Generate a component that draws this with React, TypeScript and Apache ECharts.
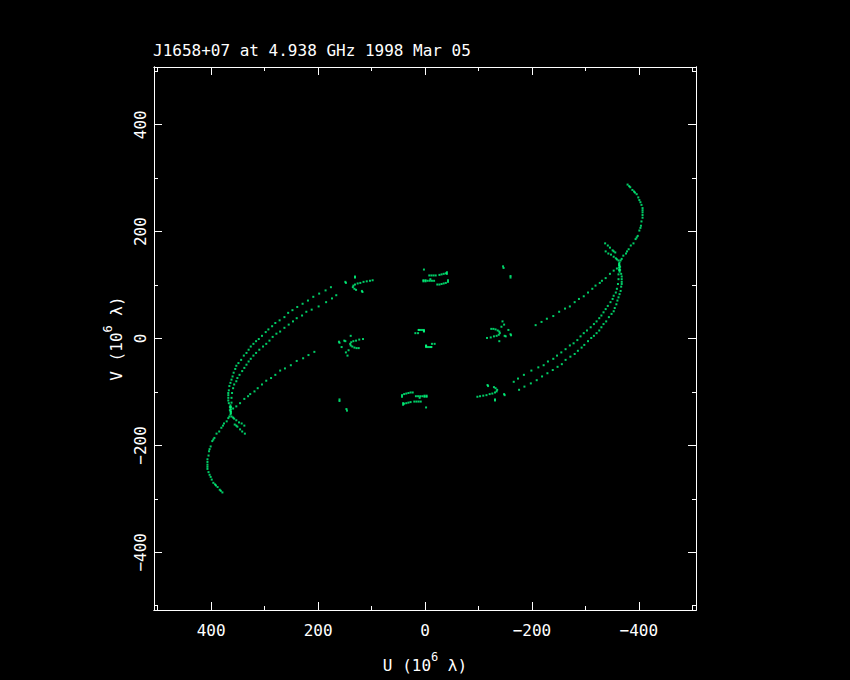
import React, { useEffect, useRef } from 'react';
import * as echarts from 'echarts';

type P = [number, number];

// ---- texts & ticks ----
const titleText = 'J1658+07 at 4.938 GHz 1998 Mar 05';
const uAxisName = '{m|U (10}{s|6}{m| \u03bb)}';
const vAxisName = '{m|V (10}{s|6}{m| \u03bb)}';
const uMin = -507;
const uMax = 507;
const vMin = -508;
const vMax = 508;
const majorTicks = [-400, -200, 0, 200, 400];
const minorTicks = [-500, -300, -100, 100, 300, 500];

// ---- measured (u, v) samples, one half of the uv-plane (units of 10^6 lambda) ----
const longTrackA: P[] = [
  [379, -288], [382, -285], [384, -283], [388, -278], [391, -275], [393, -273], [396, -270], [399, -264],
  [401, -259], [403, -255], [405, -250], [407, -244], [407, -240], [407, -236], [407, -231], [407, -226],
  [405, -219], [404, -211], [403, -207], [401, -202], [398, -192], [396, -189], [394, -186], [390, -178],
  [385, -174], [381, -167], [378, -163], [376, -159], [371, -155], [368, -149], [366, -146], [364, -142],
  [363, -137], [363, -133], [365, -128], [367, -121], [368, -116], [368, -111], [368, -106], [368, -102],
  [367, -97], [366, -89], [364, -83], [362, -77], [360, -71], [358, -64], [355, -57], [353, -51],
  [349, -46], [344, -40], [339, -32], [334, -27], [330, -21], [326, -15], [321, -10], [316, -5],
  [311, -1], [305, 5], [298, 12], [293, 17], [286, 23], [280, 29], [272, 34], [263, 40],
  [256, 48], [248, 53], [239, 59], [229, 65], [219, 71], [209, 78], [198, 84], [186, 90], [176, 96],
];

const longTrackB: P[] = [
  [363, -128], [362, -120], [362, -111], [361, -102], [359, -93], [357, -86], [353, -80], [351, -74],
  [347, -68], [342, -61], [338, -55], [334, -49], [330, -43], [326, -38], [321, -32], [316, -27],
  [310, -21], [303, -15], [297, -10], [291, -4], [285, 3], [278, 9], [271, 13], [263, 20],
  [255, 26], [247, 32], [240, 38], [230, 43], [222, 50], [212, 54], [199, 60], [185, 68],
  [174, 75], [166, 81],
];

const longTrackC: P[] = [
  [359, -131], [353, -127], [346, -121], [338, -113], [331, -108], [327, -104], [319, -99], [313, -93],
  [305, -86], [297, -79], [288, -74], [280, -68], [271, -60], [262, -56], [251, -50], [240, -42],
  [228, -37], [218, -31], [207, -25],
];

const spurOne: P[] = [[362, -146], [359, -148], [357, -150], [353, -153], [348, -157], [343, -159], [338, -163]];
const spurTwo: P[] = [[356, -161], [353, -163], [351, -165], [346, -170], [342, -174], [337, -178]];
const crossing: P[] = [[364, -125], [364, -130], [364, -137], [363, -140], [365, -134]];

const groupA: P[] = [
  [98, 109], [103, 108], [109, 107], [115, 106], [121, 104], [126, 103], [131, 101], [134, 99],
  [135, 96], [132, 93], [129, 91], [131, 114], [131, 116], [149, 106], [148, 104], [118, 89], [117, 87],
];
const groupB: P[] = [
  [-8, 118], [-12, 118], [-16, 118], [-20, 118],
  [3, 109], [3, 107], [-1, 109], [-1, 107], [-5, 108], [-9, 108], [-13, 108], [-17, 108],
  [-27, 119], [-31, 120], [-35, 121], [-39, 122], [-41, 124], [-41, 121],
  [-23, 101], [-27, 101], [-31, 102], [-35, 103], [-39, 104], [-43, 106], [-43, 109],
  [-10, 111], [2, 129],
];
const groupD: P[] = [
  [116, -1], [123, -2], [129, -4], [134, -5], [138, -7], [140, -10], [139, -13], [136, -15],
  [132, -17], [128, -18], [124, -18], [160, -8], [161, -6], [151, -4], [139, 5], [156, -16],
  [148, -26], [143, -22], [145, -32], [149, -5],
];
const groupE: P[] = [[2, 16], [5, 16], [8, 16], [11, 16], [12, 16], [2, 14], [2, 13], [18, 10], [13, 10]];
const groupG: P[] = [[160, -117], [160, -114], [147, -132], [146, -135]];

const halfPlane: P[] = [
  ...longTrackA, ...longTrackB, ...longTrackC, ...spurOne, ...spurTwo, ...crossing,
  ...groupA, ...groupB, ...groupD, ...groupE, ...groupG,
];
// every visibility is plotted together with its conjugate (-u, -v)
const conjugatePlane: P[] = halfPlane.map(([u, v]) => [-u, -v] as P);
const uvPoints: P[] = [...halfPlane, ...conjugatePlane];

const FONT = "'DejaVu Sans Mono', 'Liberation Mono', monospace";
const fmt = (v: number) => (v < 0 ? '\u2212' + Math.abs(v) : String(v));

function frameAxis(min: number, max: number, position: string, ticks: number[], len: number, extra: any = {}) {
  return {
    type: 'value',
    min,
    max,
    position,
    axisLine: { show: true, onZero: false, lineStyle: { color: '#ffffff', width: 1 } },
    axisTick: { show: true, inside: true, length: len, customValues: ticks, lineStyle: { color: '#ffffff', width: 1 } },
    axisLabel: { show: false },
    splitLine: { show: false },
    axisPointer: { show: false },
    ...extra,
  };
}

export default function App() {
  const ref = useRef<HTMLDivElement>(null);
  useEffect(() => {
    document.body.style.margin = '0';
    document.body.style.background = '#000';
    const chart = echarts.init(ref.current!, undefined, { renderer: 'svg' });
    const labelStyle = { color: '#ffffff', fontFamily: FONT, fontSize: 16 };
    const nameStyle = {
      color: '#ffffff',
      fontFamily: FONT,
      fontSize: 16,
      rich: {
        m: { color: '#ffffff', fontFamily: FONT, fontSize: 16, lineHeight: 28 },
        s: { color: '#ffffff', fontFamily: FONT, fontSize: 12, lineHeight: 12, verticalAlign: 'top' },
      },
    };
    chart.setOption({
      animation: false,
      backgroundColor: '#000000',
      title: {
        text: titleText,
        left: 153,
        top: 42,
        padding: 0,
        textStyle: { color: '#ffffff', fontFamily: FONT, fontSize: 16, fontWeight: 'normal' },
      },
      grid: { left: 154, top: 67, width: 542, height: 543, containLabel: false },
      xAxis: [
        frameAxis(uMin, uMax, 'bottom', majorTicks, 8, {
          inverse: true,
          name: uAxisName,
          nameLocation: 'middle',
          nameGap: 41,
          nameTextStyle: nameStyle,
          axisLabel: { show: true, customValues: majorTicks, margin: 12, formatter: fmt, ...labelStyle },
        }),
        frameAxis(uMin, uMax, 'bottom', minorTicks, 4, { inverse: true }),
        frameAxis(uMin, uMax, 'top', majorTicks, 8, { inverse: true }),
        frameAxis(uMin, uMax, 'top', minorTicks, 4, { inverse: true }),
      ],
      yAxis: [
        frameAxis(vMin, vMax, 'left', majorTicks, 8, {
          name: vAxisName,
          nameLocation: 'middle',
          nameGap: 23,
          nameRotate: 90,
          nameTextStyle: nameStyle,
          axisLabel: { show: true, customValues: majorTicks, margin: 6, rotate: 90, formatter: fmt, ...labelStyle },
        }),
        frameAxis(vMin, vMax, 'left', minorTicks, 4),
        frameAxis(vMin, vMax, 'right', majorTicks, 8),
        frameAxis(vMin, vMax, 'right', minorTicks, 4),
      ],
      series: [
        {
          type: 'scatter',
          xAxisIndex: 0,
          yAxisIndex: 0,
          data: uvPoints,
          symbol: 'rect',
          symbolSize: 2,
          silent: true,
          itemStyle: { color: '#00ff80' },
        },
      ],
    });
    return () => chart.dispose();
  }, []);
  return <div ref={ref} style={{ width: 850, height: 680 }} />;
}
